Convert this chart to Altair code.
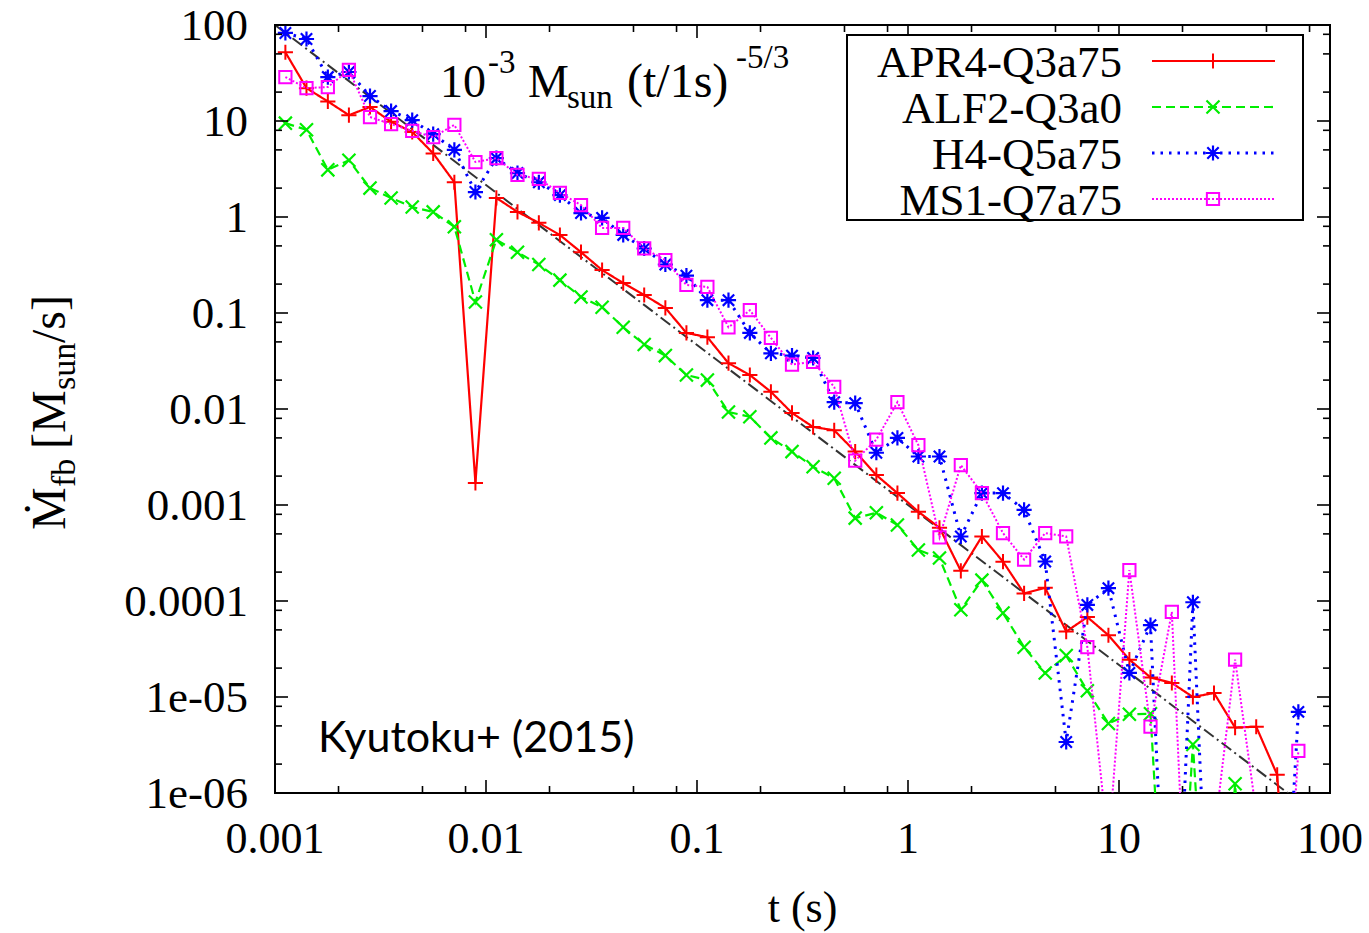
import altair as alt
import pandas as pd

# Fallback-rate time bins (s), 0.1 dex wide
t_s = [0.00112, 0.00141, 0.00178, 0.00224, 0.00282, 0.00355, 0.00447, 0.00562, 0.00708, 0.00891,
       0.0112, 0.0141, 0.0178, 0.0224, 0.0282, 0.0355, 0.0447, 0.0562, 0.0708, 0.0891,
       0.112, 0.141, 0.178, 0.224, 0.282, 0.355, 0.447, 0.562, 0.708, 0.891,
       1.12, 1.41, 1.78, 2.24, 2.82, 3.55, 4.47, 5.62, 7.08, 8.91,
       11.2, 14.1, 17.8, 22.4, 28.2, 35.5, 44.7, 56.2, 70.8]

# Mass fallback rate (M_sun/s) per model
apr4 = [52, 22, 16, 11.5, 14, 9.8, 7.7, 4.6, 2.3, 0.0017,
        1.58, 1.13, 0.87, 0.65, 0.43, 0.28, 0.205, 0.154, 0.113, 0.062,
        0.056, 0.030, 0.0226, 0.0151, 0.0091, 0.0065, 0.006, 0.0036, 0.00205, 0.00133,
        0.00085, 0.00058, 0.000206, 0.00047, 0.000257, 0.00012, 0.000137, 4.8e-5, 6.8e-5, 4.4e-5,
        2.45e-5, 1.6e-5, 1.4e-5, 1.0e-5, 1.1e-5, 4.8e-6, 4.9e-6, 1.55e-6, 1e-9]
alf2 = [9.5, 8.1, 3.1, 3.9, 2.0, 1.58, 1.27, 1.13, 0.79, 0.13,
        0.58, 0.43, 0.32, 0.22, 0.147, 0.115, 0.071, 0.047, 0.036, 0.0226,
        0.020, 0.0093, 0.0083, 0.005, 0.0036, 0.0025, 0.0019, 0.00073, 0.00083, 0.00062,
        0.00034, 0.00028, 8.1e-5, 0.000165, 7.5e-5, 3.3e-5, 1.78e-5, 2.7e-5, 1.16e-5, 5.3e-6,
        6.6e-6, 6.7e-6, 1e-9, 3.2e-6, 1e-9, 1.25e-6, 1e-9, 1e-9, 1e-9]
h4 = [82.6, 71.5, 28.7, 32.4, 18.2, 12.7, 10.2, 7.3, 5.0, 1.82,
      4.1, 2.87, 2.3, 1.69, 1.1, 0.98, 0.65, 0.47, 0.32, 0.245,
      0.136, 0.136, 0.062, 0.038, 0.036, 0.034, 0.0118, 0.0115, 0.0035, 0.005,
      0.0032, 0.0032, 0.00047, 0.00133, 0.00133, 0.00089, 0.000258, 3.4e-6, 9.1e-5, 0.000136,
      1.78e-5, 5.6e-5, 1e-9, 9.7e-5, 1e-9, 1e-9, 1e-9, 1e-9, 7.0e-6]
ms1 = [28.7, 22, 22.6, 34, 11, 9.3, 7.9, 6.8, 9.1, 3.74,
       4.1, 2.74, 2.5, 1.78, 1.33, 0.77, 0.77, 0.47, 0.356, 0.196,
       0.187, 0.071, 0.107, 0.055, 0.029, 0.031, 0.017, 0.0029, 0.0048, 0.0118,
       0.0042, 0.00046, 0.0026, 0.00133, 0.00051, 0.00027, 0.00051, 0.00047, 3.3e-5, 2.7e-7,
       0.00021, 4.9e-6, 7.7e-5, 1e-9, 3.5e-7, 2.45e-5, 6.3e-7, 1e-9, 2.75e-6]

names = ["APR4-Q3a75", "ALF2-Q3a0", "H4-Q5a75", "MS1-Q7a75"]
series = [apr4, alf2, h4, ms1]

# Power-law reference 1e-3 M_sun (t/1s)^(-5/3)
ref_t = [0.001, 100]
ref_v = [1e-3 * t ** (-5.0 / 3.0) for t in ref_t]

x_major = [0.001, 0.01, 0.1, 1, 10, 100]
x_labels = ["0.001", "0.01", "0.1", "1", "10", "100"]
y_major = [1e-6, 1e-5, 1e-4, 1e-3, 1e-2, 0.1, 1, 10, 100]
y_labels = ["1e-06", "1e-05", "0.0001", "0.001", "0.01", "0.1", "1", "10", "100"]
minor_mult = [2, 5, 8]

SERIF = "Liberation Serif"
W, H = 1055, 768

PLUS = "M -1 0 L 1 0 M 0 -1 L 0 1"
CROSS = "M -1 -1 L 1 1 M -1 1 L 1 -1"
STAR = "M -1 0 L 1 0 M 0 -1 L 0 1 M -0.75 -0.75 L 0.75 0.75 M -0.75 0.75 L 0.75 -0.75"
styles = [
    dict(color="#ff0000", dash=[1, 0], width=2.2, shape=PLUS, size=230, pw=2),
    dict(color="#00ee00", dash=[9, 5], width=2.2, shape=CROSS, size=170, pw=2.2),
    dict(color="#0000ff", dash=[2.5, 6], width=3, shape=STAR, size=230, pw=2.2),
    dict(color="#ff00ff", dash=[2, 2], width=2, shape="square", size=150, pw=2),
]

xs = alt.Scale(type="log", domain=[1e-3, 1e2], nice=False)
ys = alt.Scale(type="log", domain=[1e-6, 1e2], nice=False)

def xq(field):
    return alt.X(field + ":Q", scale=xs, axis=None)

def yq(field):
    return alt.Y(field + ":Q", scale=ys, axis=None)

layers = []
one = pd.DataFrame({"k": [0]})

# reference power law
ref_df = pd.DataFrame({"t": ref_t, "v": ref_v})
layers.append(
    alt.Chart(ref_df).mark_line(color="#333333", strokeDash=[12, 4, 2, 4], strokeWidth=2, clip=True)
    .encode(x=xq("t"), y=yq("v"))
)

for name, vals, st in zip(names, series, styles):
    df = pd.DataFrame({"t": t_s, "v": vals})
    layers.append(
        alt.Chart(df).mark_line(color=st["color"], strokeDash=st["dash"], strokeWidth=st["width"], clip=True)
        .encode(x=xq("t"), y=yq("v"))
    )
    layers.append(
        alt.Chart(df).mark_point(shape=st["shape"], size=st["size"], filled=False, color=st["color"],
                                 strokeWidth=st["pw"], opacity=1, clip=True)
        .encode(x=xq("t"), y=yq("v"))
    )

# inward tick marks on all four sides
x_minor = [m * 10.0 ** e for e in range(-3, 2) for m in minor_mult]
y_minor = [m * 10.0 ** e for e in range(-6, 2) for m in minor_mult]
for vals, ln in ((x_major, 13), (x_minor, 7)):
    d = pd.DataFrame({"v": vals})
    layers.append(alt.Chart(d).mark_rule(color="black", strokeWidth=1.6)
                  .encode(x=xq("v"), y=alt.value(H), y2=alt.value(H - ln)))
    layers.append(alt.Chart(d).mark_rule(color="black", strokeWidth=1.6)
                  .encode(x=xq("v"), y=alt.value(0), y2=alt.value(ln)))
for vals, ln in ((y_major, 13), (y_minor, 7)):
    d = pd.DataFrame({"v": vals})
    layers.append(alt.Chart(d).mark_rule(color="black", strokeWidth=1.6)
                  .encode(y=yq("v"), x=alt.value(0), x2=alt.value(ln)))
    layers.append(alt.Chart(d).mark_rule(color="black", strokeWidth=1.6)
                  .encode(y=yq("v"), x=alt.value(W), x2=alt.value(W - ln)))

# tick labels
xl = pd.DataFrame({"v": x_major, "lab": x_labels})
layers.append(
    alt.Chart(xl).mark_text(font=SERIF, fontSize=44, align="center", baseline="alphabetic", color="black")
    .encode(x=xq("v"), y=alt.value(H + 60), text="lab:N")
)
yl = pd.DataFrame({"v": y_major, "lab": y_labels})
layers.append(
    alt.Chart(yl).mark_text(font=SERIF, fontSize=45, align="right", baseline="alphabetic", color="black", dy=15)
    .encode(y=yq("v"), x=alt.value(-27), text="lab:N")
)

# legend box
layers.append(
    alt.Chart(one).mark_rect(fill="white", stroke="black", strokeWidth=2)
    .encode(x=alt.value(572), x2=alt.value(1028), y=alt.value(10), y2=alt.value(195))
)
for i, (name, st) in enumerate(zip(names, styles)):
    yy = 36 + 46 * i
    layers.append(
        alt.Chart(one).mark_text(text=name, font=SERIF, fontSize=45, align="right",
                                 baseline="middle", color="black")
        .encode(x=alt.value(847), y=alt.value(yy + 2))
    )
    layers.append(
        alt.Chart(one).mark_rule(color=st["color"], strokeDash=st["dash"], strokeWidth=st["width"])
        .encode(x=alt.value(877), x2=alt.value(1000), y=alt.value(yy), y2=alt.value(yy))
    )
    layers.append(
        alt.Chart(one).mark_point(shape=st["shape"], size=st["size"], filled=False, color=st["color"],
                                  strokeWidth=st["pw"], opacity=1)
        .encode(x=alt.value(938), y=alt.value(yy))
    )

def txt(s, x, y, size, angle=0, align="left"):
    kw = dict(text=s, font=SERIF, fontSize=size, align=align, baseline="alphabetic", color="black")
    if angle:
        kw["angle"] = angle
    return alt.Chart(one).mark_text(**kw).encode(x=alt.value(x), y=alt.value(y))

# formula annotation: 10^-3 M_sun (t/1s)^-5/3
layers += [
    txt("10", 165, 72, 46),
    txt("-3", 213, 48, 33),
    txt("M", 253, 72, 46),
    txt("sun", 292, 83, 33),
    txt("(t/1s)", 352, 72, 48),
    txt("-5/3", 461, 43, 33),
]

# axis titles; the y title is written bottom-to-top
layers += [
    txt("t (s)", W / 2, 897, 44, align="center"),
    txt("\u1E40", -210, 505, 48, 270),
    txt("fb", -200, 462, 34, 270),
    txt("[M", -210, 424, 48, 270),
    txt("sun", -200, 365, 34, 270),
    txt("/s]", -210, 318, 48, 270),
]

# citation
layers.append(
    alt.Chart(one).mark_text(text="Kyutoku+ (2015)", font="Lato", fontSize=43, align="left",
                             baseline="alphabetic", color="black")
    .encode(x=alt.value(43), y=alt.value(727))
)

chart = alt.layer(*layers).properties(
    width=W, height=H,
    padding={"left": 275, "top": 25, "right": 39, "bottom": 140},
    autosize=alt.AutoSizeParams(type="none"),
    background="white",
).configure_view(stroke="black", strokeWidth=2)

chart.save("out.html", embed_options={"renderer": "svg", "actions": False})
